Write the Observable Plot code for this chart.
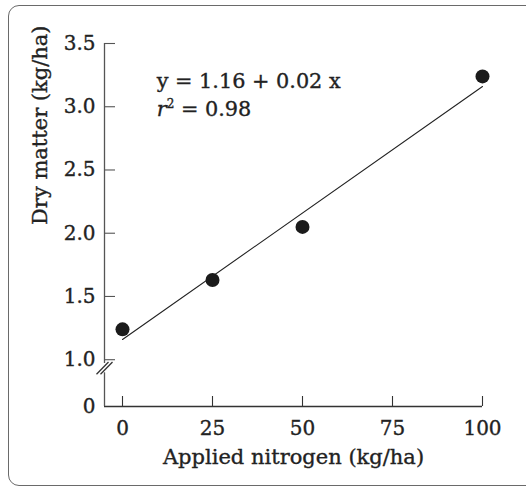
<!DOCTYPE html>
<html>
<head>
<meta charset="utf-8">
<script src="https://cdn.jsdelivr.net/npm/d3@7"></script>
<script src="https://cdn.jsdelivr.net/npm/@observablehq/plot@0.6"></script>
<style>
  html, body { margin: 0; padding: 0; background: #fff; overflow: hidden; }
  #wrap { position: relative; width: 526px; height: 489px; }
  #box {
    position: absolute; left: 8px; top: 5px; width: 540px; height: 481px;
    border: 1.3px solid #6a6a6a; border-radius: 11px; box-sizing: border-box;
  }
  #chart { position: absolute; left: 0; top: 0; }
  #chart svg text { font-family: "DejaVu Serif", serif; stroke: #222; stroke-width: 0.35px; paint-order: stroke; }
</style>
</head>
<body>
<div id="wrap"><div id="box"></div><div id="chart"></div></div>
<script>
// Dry matter response to applied nitrogen
const nitrogen = [0, 25, 50, 100];
const dryMatter = [1.24, 1.63, 2.05, 3.24];

// Fitted regression: y = 1.16 + 0.02 x
const intercept = 1.16;
const slope = 0.02;
const fitX = [0, 100];

const xTicks = [0, 25, 50, 75, 100];
const yTicks = [0, 1.0, 1.5, 2.0, 2.5, 3.0, 3.5];
const yTickLabels = ["0", "1.0", "1.5", "2.0", "2.5", "3.0", "3.5"];

// Broken y axis: the 0–1 stretch is compressed, with a gap marked by a double slash
const squeeze = 0.37;
const axisBreak = [0.72, 0.92];
const brk = v => (v >= 1 ? v : 1 - (1 - v) * squeeze);

const points = nitrogen.map((n, i) => ({n, dm: brk(dryMatter[i])}));
const fit = fitX.map(n => ({n, dm: brk(intercept + slope * n)}));
const yLow = brk(0);

const serif = "DejaVu Serif, serif";
const tickFont = 20;

const chart = Plot.plot({
  width: 526,
  height: 489,
  marginLeft: 104,
  marginRight: 44,
  marginTop: 43,
  marginBottom: 83,
  style: {fontFamily: serif, fontSize: "18px", color: "#222", background: "transparent"},
  x: {domain: [-5, 100], axis: null},
  y: {domain: [yLow, 3.5], axis: null},
  marks: [
    // x axis line and inward ticks
    Plot.ruleY([yLow], {stroke: "#333", strokeWidth: 1.3}),
    Plot.axisX({ticks: xTicks, tickSize: -10, tickPadding: 24, tickFormat: d => String(d),
      fontSize: tickFont, stroke: "#333", strokeWidth: 1.1, label: null}),
    // y axis line with break
    Plot.ruleX([-5], {y1: yLow, y2: brk(axisBreak[0]), stroke: "#555", strokeWidth: 1.3}),
    Plot.ruleX([-5], {y1: brk(axisBreak[1]), y2: 3.5, stroke: "#555", strokeWidth: 1.3}),
    Plot.axisY({ticks: yTicks.filter(d => d > 0), tickSize: -11, tickPadding: 20,
      tickFormat: d => yTickLabels[yTicks.indexOf(d)], fontSize: tickFont, stroke: "#555", strokeWidth: 1.1, label: null}),
    Plot.text([yTickLabels[0]], {x: -5, y: yLow, dx: -9, textAnchor: "end", fontSize: tickFont, fill: "#222"}),
    // double slash marking the axis break
    Plot.link([0, 1], {
      x1: -5, x2: -5, y1: brk(axisBreak[0]), y2: brk(axisBreak[1]),
      stroke: "#333", strokeWidth: 1.3,
      render(index, scales, values, dims, ctx, next) {
        const g = next(index, scales, values, dims, ctx);
        d3.select(g).selectAll("path").each(function(_, j) {
          const i = index[j];
          const x0 = values.x1[i] + (j * 4 - 2);
          const y0 = values.y1[i] + 1.5;
          const y1v = values.y2[i] - 1.5;
          d3.select(this).attr("d", `M${x0 - 6},${y0}L${x0 + 6},${y1v}`);
        });
        return g;
      }
    }),
    // regression line
    Plot.line(fit, {x: "n", y: "dm", stroke: "#222", strokeWidth: 1.1}),
    // observations
    Plot.dot(points, {x: "n", y: "dm", r: 7, fill: "#1b1b1b", stroke: "none"}),
    // equation annotation
    Plot.text(["y = 1.16 + 0.02 x"], {x: 9.5, y: 3.2, textAnchor: "start", fontSize: 20.8, fill: "#222"}),
    Plot.text(["r2 = 0.98"], {x: 9.5, y: 2.98, textAnchor: "start", fontSize: 20.8, fill: "#222", className: "rsq"}),
    // axis titles
    Plot.text(["Applied nitrogen (kg/ha)"], {frameAnchor: "bottom", dy: 57, fontSize: 21, fill: "#222"}),
    Plot.text(["Dry matter (kg/ha)"], {frameAnchor: "left", dx: -64, rotate: -90, fontSize: 21, fill: "#222"})
  ]
});

// italic r with superscript 2
d3.select(chart).selectAll(".rsq text").each(function() {
  const t = d3.select(this);
  t.text(null);
  t.append("tspan").attr("font-style", "italic").text("r");
  t.append("tspan").attr("font-size", 12).attr("dy", -8).text("2");
  t.append("tspan").attr("dy", 8).text(" = 0.98");
});

document.getElementById("chart").append(chart);
</script>
</body>
</html>
